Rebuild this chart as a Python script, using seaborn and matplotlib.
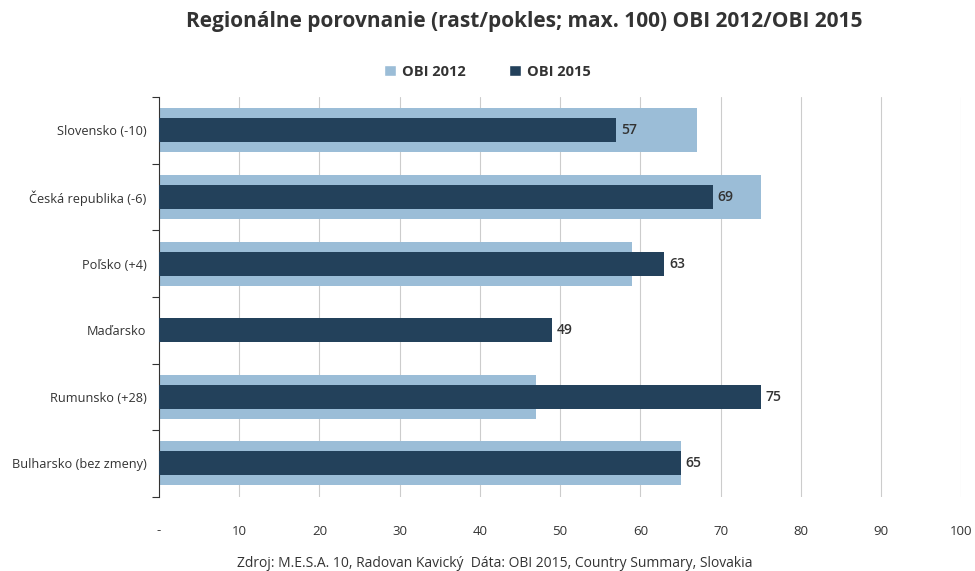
import matplotlib
matplotlib.use("Agg")
import matplotlib.pyplot as plt
import seaborn as sns
import numpy as np
import pandas as pd
from matplotlib.patches import Patch

categories = ["Slovensko (-10)", "Česká republika (-6)", "Poľsko (+4)",
              "Maďarsko", "Rumunsko (+28)", "Bulharsko (bez zmeny)"]
obi2012 = [67, 75, 59, np.nan, 47, 65]
obi2015 = [57, 69, 63, 49, 75, 65]
xticks = [0, 10, 20, 30, 40, 50, 60, 70, 80, 90, 100]
xticklabels = ["-", "10", "20", "30", "40", "50", "60", "70", "80", "90", "100"]

title = "Regionálne porovnanie (rast/pokles; max. 100) OBI 2012/OBI 2015"
footer = "Zdroj: M.E.S.A. 10, Radovan Kavický  Dáta: OBI 2015, Country Summary, Slovakia"

light = "#9bbdd7"
dark = "#23415b"
textc = "#333333"

sns.set_theme(style="white")
plt.rcParams['font.family'] = ['Open Sans', 'DejaVu Sans']

df = pd.DataFrame({"cat": categories, "y2012": obi2012, "y2015": obi2015})

fig = plt.figure(figsize=(9.75, 5.71), dpi=100)
ax = fig.add_axes([0.163, 0.130, 0.823, 0.700])

sns.barplot(data=df, x="y2012", y="cat", orient="h", color=light,
            width=0.66, saturation=1, linewidth=0, edgecolor="none", ax=ax, zorder=2)
sns.barplot(data=df, x="y2015", y="cat", orient="h", color=dark,
            width=0.36, saturation=1, linewidth=0, edgecolor="none", ax=ax, zorder=3)

for i, v in enumerate(obi2015):
    ax.text(v + 0.6, i, f"{v}", va="center", ha="left", fontsize=10,
            color=textc, fontweight="semibold", zorder=4)

ax.set_xlim(0, 100)
ax.set_ylim(len(categories) - 0.5, -0.5)
ax.set_xticks(xticks)
ax.set_xticklabels(xticklabels, fontsize=9.5, color=textc)
ax.tick_params(axis="x", length=0, pad=20)
ax.set_yticks(range(len(categories)))
ax.set_yticklabels(categories, fontsize=9.2, color=textc)
ax.tick_params(axis="y", which="major", length=0, pad=9)
ax.set_yticks(np.arange(-0.5, len(categories), 1.0), minor=True)
ax.tick_params(axis="y", which="minor", length=5, width=0.8, color="#333333", left=True)
ax.set_xlabel("")
ax.set_ylabel("")

for xv in xticks[1:]:
    ax.axvline(xv, color="#cccccc", lw=0.8, zorder=1)

for s in ["top", "right", "bottom"]:
    ax.spines[s].set_visible(False)
ax.spines["left"].set_color("#333333")
ax.spines["left"].set_linewidth(0.8)

fig.text(0.538, 0.963, title, ha="center", va="center", fontsize=15,
         fontweight="bold", color=textc)

handles = [Patch(facecolor=light, label="OBI 2012"),
           Patch(facecolor=dark, label="OBI 2015")]
fig.legend(handles=handles, loc="center", bbox_to_anchor=(0.5, 0.874), ncol=2,
           frameon=False, handlelength=0.8, handleheight=0.8, handletextpad=0.4,
           columnspacing=3, prop={"size": 10.5, "weight": "bold"}, labelcolor=textc)

fig.text(0.507, 0.014, footer, ha="center", va="center", fontsize=10, color=textc)

fig.savefig("out.png", dpi=100)
